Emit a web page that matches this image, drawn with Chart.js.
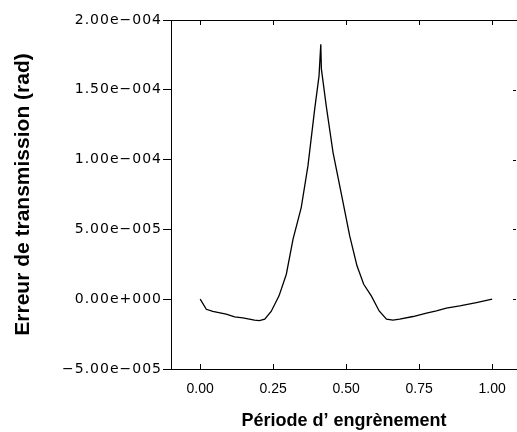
<!DOCTYPE html>
<html>
<head>
<meta charset="utf-8">
<script src="https://cdn.jsdelivr.net/npm/chart.js@4"></script>
<style>
  html, body { margin: 0; padding: 0; background: #fff; }
  #wrap { width: 517px; height: 432px; }
</style>
</head>
<body>
<div id="wrap"><canvas id="myChart" width="517" height="432"></canvas></div>
<script>
// Période d'engrènement (x) and erreur de transmission in rad (y)
const periode = [0.000, 0.021, 0.043, 0.089, 0.118, 0.146, 0.186, 0.203, 0.221, 0.243, 0.270, 0.295,
  0.318, 0.346, 0.369, 0.392, 0.407, 0.413, 0.415, 0.432, 0.455, 0.487, 0.512, 0.537, 0.560,
  0.586, 0.613, 0.638, 0.660, 0.683, 0.729, 0.775, 0.809, 0.843, 0.889, 0.946, 1.000];
const erreur = [0, -0.72e-5, -0.88e-5, -1.07e-5, -1.26e-5, -1.34e-5, -1.50e-5, -1.53e-5, -1.43e-5, -0.88e-5, 0.24e-5, 1.79e-5,
  4.3e-5, 6.56e-5, 9.55e-5, 13.6e-5, 16.0e-5, 18.26e-5, 16.5e-5, 13.8e-5, 10.5e-5, 7.16e-5, 4.53e-5, 2.39e-5, 1.07e-5,
  0.24e-5, -0.84e-5, -1.43e-5, -1.50e-5, -1.43e-5, -1.24e-5, -1.0e-5, -0.84e-5, -0.64e-5, -0.48e-5, -0.24e-5, 0];
const xTicks = [0, 0.25, 0.5, 0.75, 1];
const yTicks = [-5e-5, 0, 5e-5, 1e-4, 1.5e-4, 2e-4];

function fmtExp(v) {
  if (Math.abs(v) < 1e-12) return '0.00e+000';
  const parts = v.toExponential(2).split('e');
  const exp = parseInt(parts[1], 10);
  const mant = parts[0].replace('-', '\u2212');
  const sign = exp < 0 ? '\u2212' : '+';
  return mant + 'e' + sign + String(Math.abs(exp)).padStart(3, '0');
}

Chart.defaults.color = '#000';
Chart.defaults.font.family = '"Liberation Sans", Arial, sans-serif';

const framePlugin = {
  id: 'frame',
  afterDraw(chart) {
    const ctx = chart.ctx;
    const a = chart.chartArea;
    const xs = chart.scales.x, ys = chart.scales.y;
    ctx.save();
    ctx.strokeStyle = '#000';
    ctx.lineWidth = 1;
    ctx.beginPath();
    ctx.moveTo(a.left, a.top + 0.5);
    ctx.lineTo(a.right, a.top + 0.5);
    xTicks.forEach(function (t) {
      const px = Math.round(xs.getPixelForValue(t)) + 0.5;
      ctx.moveTo(px, a.top);
      ctx.lineTo(px, a.top + 5);
      ctx.moveTo(px, a.bottom);
      ctx.lineTo(px, a.bottom - 5);
    });
    yTicks.forEach(function (t) {
      const py = Math.round(ys.getPixelForValue(t)) + 0.5;
      ctx.moveTo(a.right - 1, py);
      ctx.lineTo(a.right - 4, py);
    });
    ctx.stroke();
    ctx.restore();
  }
};

// y tick labels in the original are widely spaced
function spreadLabels(s) {
  if (s._spread) return;
  s._spread = true;
  const orig = s.drawLabels.bind(s);
  s.drawLabels = function (area) {
    s.ctx.save();
    if ('letterSpacing' in s.ctx) s.ctx.letterSpacing = '1px';
    orig(area);
    s.ctx.restore();
  };
}

const ctx = document.getElementById('myChart').getContext('2d');
new Chart(ctx, {
  type: 'scatter',
  data: {
    datasets: [{
      data: periode.map(function (p, i) { return { x: p, y: erreur[i] }; }),
      showLine: true,
      borderColor: '#000',
      borderWidth: 1.3,
      pointRadius: 0,
      tension: 0,
      fill: false
    }]
  },
  options: {
    responsive: false,
    animation: false,
    devicePixelRatio: 1,
    layout: { padding: { top: 20, right: 0, bottom: 0, left: 0 } },
    plugins: { legend: { display: false }, tooltip: { enabled: false } },
    scales: {
      x: {
        type: 'linear',
        min: -0.1,
        max: 1.085,
        afterBuildTicks: function (s) { s.ticks = xTicks.map(function (v) { return { value: v }; }); },
        afterFit: function (s) { s.height = 63; },
        grid: { display: false },
        border: { display: true, color: '#000', width: 1 },
        ticks: {
          font: { size: 14 },
          padding: 4,
          maxRotation: 0,
          callback: function (v) { return v.toFixed(2); }
        },
        title: {
          display: true,
          text: 'Période d\u2019 engrènement',
          font: { size: 18, weight: 'bold' },
          padding: { top: 0, bottom: 0 }
        }
      },
      y: {
        type: 'linear',
        min: -5e-5,
        max: 2e-4,
        afterBuildTicks: function (s) { s.ticks = yTicks.map(function (v) { return { value: v }; }); },
        afterFit: function (s) { s.width = 171; spreadLabels(s); },
        grid: { drawOnChartArea: false, drawTicks: true, tickLength: 8, color: '#000' },
        border: { display: true, color: '#000', width: 1 },
        ticks: {
          font: { family: '"DejaVu Sans", sans-serif', size: 14 },
          padding: 1,
          callback: function (v) { return fmtExp(v); }
        },
        title: {
          display: true,
          text: 'Erreur de transmission (rad)',
          font: { size: 21, weight: 'bold' },
          padding: { top: 11, bottom: 0 }
        }
      }
    }
  },
  plugins: [framePlugin]
});
</script>
</body>
</html>
